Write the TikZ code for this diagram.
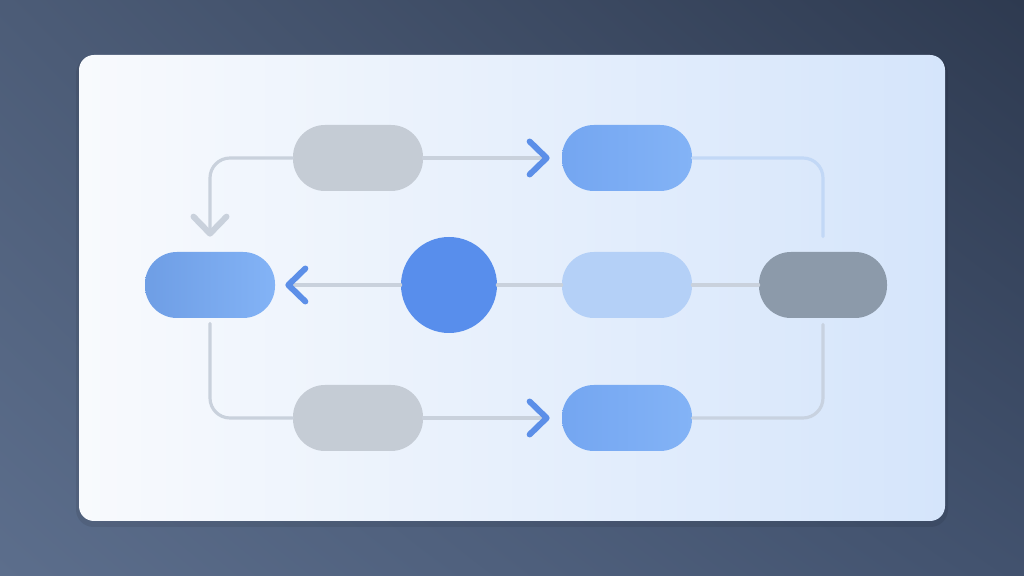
\documentclass[tikz,border=0pt]{standalone}
\usepackage{xcolor}
\usepackage{tikz}
\usetikzlibrary{arrows.meta,positioning,shadings}
\definecolor{bgTL}{RGB}{76, 92, 119}
\definecolor{bgTR}{RGB}{46, 58, 80}
\definecolor{bgBL}{RGB}{92, 110, 140}
\definecolor{bgBR}{RGB}{66, 82, 110}
\definecolor{cardL}{RGB}{248, 250, 253}
\definecolor{cardR}{RGB}{213, 229, 251}
\definecolor{fcgray}{RGB}{197, 204, 213}
\definecolor{fcdark}{RGB}{140, 154, 170}
\definecolor{fcblueL}{RGB}{116, 166, 241}
\definecolor{fcblueR}{RGB}{131, 179, 246}
\definecolor{fclight}{RGB}{180, 208, 247}
\definecolor{fccirc}{RGB}{88, 142, 236}
\definecolor{fcline}{RGB}{201, 209, 220}
\definecolor{fclineb}{RGB}{194, 216, 246}
\definecolor{fcarrow}{RGB}{92, 143, 232}

\begin{document}
\begin{tikzpicture}[
    pill/.style={rectangle, rounded corners=0.64cm, minimum width=2.6cm, minimum height=1.32cm, inner sep=0pt},
    graypill/.style={pill, fill=fcgray},
    bluepill/.style={pill, left color=fcblueL, right color=fcblueR},
    conn/.style={line width=1.8pt, line cap=round, rounded corners=0.4cm},
    arrb/.style={-{Straight Barb[length=0.34cm, width=0.66cm, line width=3.4pt, round, color=fcarrow]}},
    arrg/.style={-{Straight Barb[length=0.34cm, width=0.66cm, line width=3.4pt, round, color=fcline]}}
]
% Background and card
\useasboundingbox (0,0) rectangle (20.48,11.52);
\shade[upper left=bgTL, upper right=bgTR, lower left=bgBL, lower right=bgBR] (0,0) rectangle (20.48,11.52);
\fill[black, opacity=0.08, rounded corners=0.35cm] (1.52,0.98) rectangle (18.96,10.4);
\shade[left color=cardL, right color=cardR, rounded corners=0.3cm] (1.58,1.1) rectangle (18.9,10.42);

% Nodes
\node[graypill] (gtop) at (7.16,8.36) {};
\node[bluepill] (btop) at (12.54,8.36) {};
\node[bluepill, left color=fcblueL!95!black] (bleft) at (4.2,5.82) {};
\node[circle, fill=fccirc, minimum size=1.92cm, inner sep=0pt] (hub) at (8.98,5.82) {};
\node[pill, fill=fclight] (lblue) at (12.54,5.82) {};
\node[pill, fill=fcdark, minimum width=2.56cm] (dgray) at (16.46,5.82) {};
\node[graypill] (gbot) at (7.16,3.16) {};
\node[bluepill] (bbot) at (12.54,3.16) {};

% Top loop
\draw[conn, fcline, arrg, shorten >=0.3cm] (gtop.west) -| (bleft.north);
\draw[conn, fcline, arrb, shorten >=0.24cm] (gtop.east) -- (btop.west);
\draw[conn, fclineb, shorten >=0.3cm] (btop.east) -| (dgray.north);

% Middle row
\draw[conn, fcline] (dgray.west) -- (lblue.east);
\draw[conn, fcline] (lblue.west) -- (hub.east);
\draw[conn, fcline, arrb, shorten >=0.2cm] (hub.west) -- (bleft.east);

% Bottom loop
\draw[conn, fcline, shorten <=0.1cm] (bleft.south) |- (gbot.west);
\draw[conn, fcline, arrb, shorten >=0.24cm] (gbot.east) -- (bbot.west);
\draw[conn, fcline!85!fclineb, shorten >=0.12cm] (bbot.east) -| (dgray.south);
\end{tikzpicture}
\end{document}
